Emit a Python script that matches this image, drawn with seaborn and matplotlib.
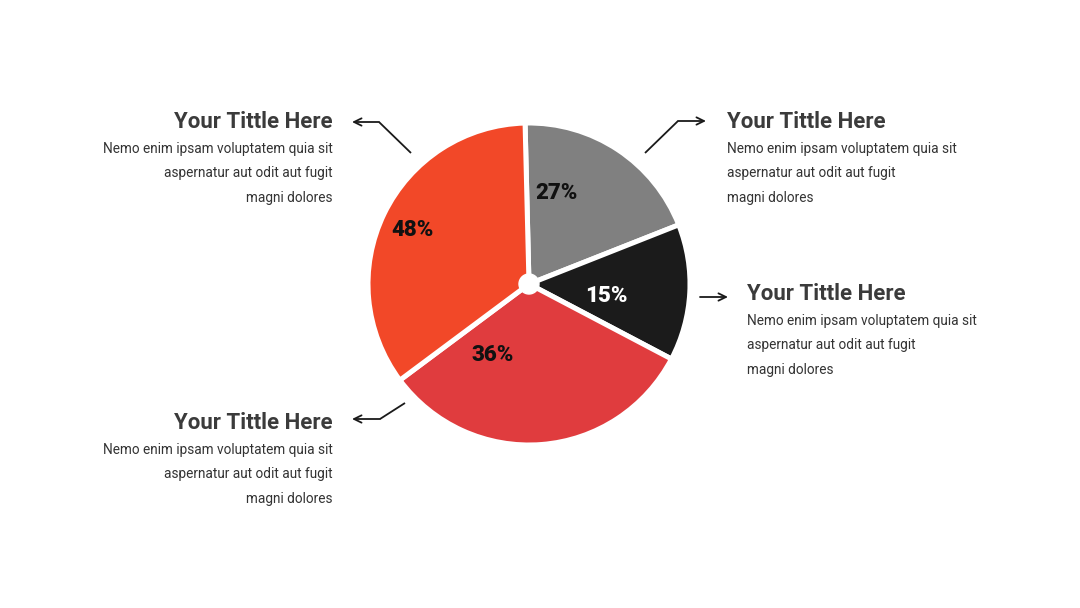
import numpy as np
import matplotlib
matplotlib.use("Agg")
import matplotlib.pyplot as plt
import seaborn as sns

# slices, clockwise from the top (shares)
slice_shares = [19.4, 13.7, 32.1, 34.8]
pct_labels = ["27%", "15%", "36%", "48%"]
slice_colors = ["#808080", "#1b1b1b", "#e03c3e", "#f24828"]
label_colors = ["#111111", "#ffffff", "#111111", "#111111"]
# where each % label sits: (angle in degrees, distance from centre in px)
label_polar = [(73, 95), (-9, 78), (243, 80), (155, 128)]

titles = ["Your Tittle Here"] * 4
body_lines = ["Nemo enim ipsam voluptatem quia sit",
              "aspernatur aut odit aut fugit",
              "magni dolores"]

# text blocks: (x, title baseline y in px from top, alignment)
blocks = [(333, 128, "right"), (727, 128, "left"),
          (747, 300, "left"), (333, 429, "right")]
# leader arrows: polyline points in px (last point = arrow tip)
arrows = [
    [(411, 153), (379, 122), (352, 122)],
    [(645, 153), (678, 121), (706, 121)],
    [(700, 297), (728, 297)],
    [(405, 403), (380, 419), (352, 419)],
]

W, H = 1080, 608
CX, CY, R = 529, 284, 161

sns.set_theme(style="white")
plt.rcParams["font.family"] = ["Roboto", "DejaVu Sans"]

fig = plt.figure(figsize=(10.8, 6.08), dpi=100)
ax = fig.add_axes([0, 0, 1, 1])


def fy(y):
    return H - y


wedges, _ = ax.pie(slice_shares, colors=slice_colors, startangle=91.4,
                   counterclock=False, center=(CX, fy(CY)), radius=R,
                   wedgeprops=dict(edgecolor="white", linewidth=3.6))
ax.add_patch(plt.Circle((CX, fy(CY)), 10, color="white", zorder=5))

# pie() sets its own limits, so put the pixel frame back afterwards
ax.set_xlim(0, W)
ax.set_ylim(0, H)
ax.set_aspect("equal")
ax.axis("off")

for lab, col, (ang, dist) in zip(pct_labels, label_colors, label_polar):
    a = np.deg2rad(ang)
    ax.text(CX + dist * np.cos(a), fy(CY) + dist * np.sin(a), lab,
            color=col, fontsize=16, fontweight="heavy",
            ha="center", va="center", zorder=6)

for title, (x, yb, ha) in zip(titles, blocks):
    ax.text(x, fy(yb), title, ha=ha, va="baseline", fontsize=16,
            fontweight="bold", color="#3b3b3b")
    for i, line in enumerate(body_lines):
        ax.text(x, fy(yb + 25 + 24.4 * i), line, ha=ha, va="baseline",
                fontsize=9.8, color="#333333")

for pts in arrows:
    xs = [p[0] for p in pts]
    ys = [fy(p[1]) for p in pts]
    if len(pts) > 2:
        ax.plot(xs[:-1], ys[:-1], color="#1a1a1a", lw=1.3,
                solid_capstyle="butt")
    ax.annotate("", xy=(xs[-1], ys[-1]), xytext=(xs[-2], ys[-2]),
                arrowprops=dict(arrowstyle="->,head_length=0.45,head_width=0.22",
                                color="#1a1a1a", lw=1.3,
                                shrinkA=0, shrinkB=0))

fig.savefig("out.png", dpi=100, facecolor="white")
